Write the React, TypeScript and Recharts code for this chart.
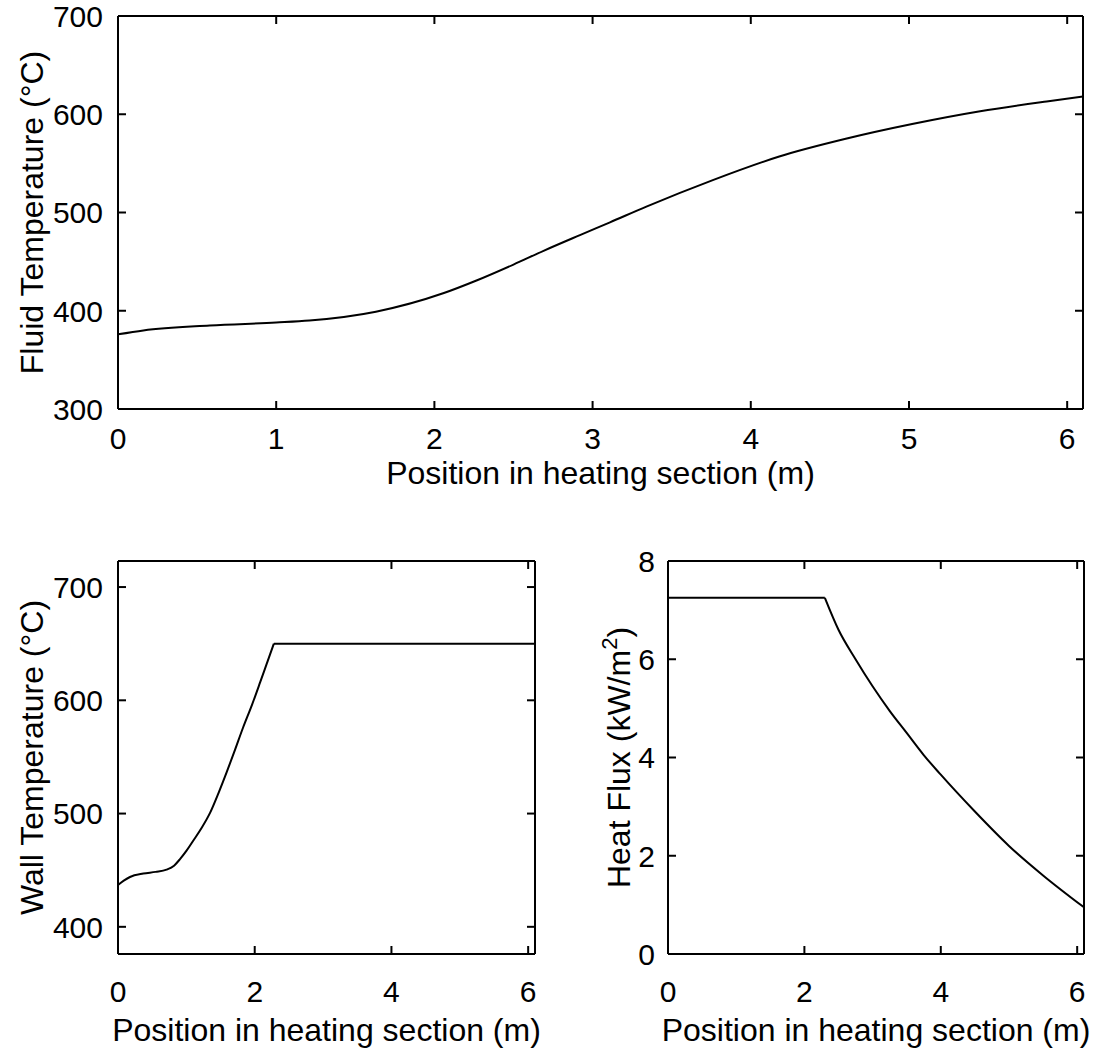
import { LineChart, Line, XAxis, YAxis, ReferenceLine } from 'recharts';

// Fluid temperature along the heating section (top plot)
const fluidPos = [0, 0.16, 0.58, 1.0, 1.21, 1.63, 2.06, 2.27, 2.5, 2.69, 2.92, 3.11, 3.34, 3.76, 4.18, 4.6, 5.02, 5.45, 5.87, 6.1];
const fluidTemp = [376, 380, 385, 388, 390, 399, 418, 431, 447, 461, 477, 490, 506, 533, 557, 575, 590, 603, 613, 618];

// Wall temperature (bottom left), rises until the knee then stays flat
const wallPos = [0, 0.09, 0.175, 0.37, 0.55, 0.71, 0.82, 0.91, 1.0, 1.1, 1.22, 1.35, 1.47, 1.59, 1.71, 1.83, 1.96, 2.08, 2.18, 2.28, 6.1];
const wallTemp = [437, 441, 444, 447, 448.5, 450.5, 454, 460, 467, 476, 487, 501, 518, 536.5, 556, 576, 596, 616, 633, 650, 650];
const wallKnee = 2.28;

// Heat flux (bottom right), flat until the knee then decaying
const fluxPos = [0, 2.3, 2.5, 2.75, 3, 3.25, 3.5, 3.75, 4, 4.5, 5, 5.5, 6.1];
const fluxVal = [7.25, 7.25, 6.6, 6.0, 5.45, 4.95, 4.5, 4.05, 3.65, 2.9, 2.2, 1.6, 0.95];
const fluxKnee = 2.3;

const X_MAX = 6.1;
const topXTicks = [0, 1, 2, 3, 4, 5, 6];
const topYTicks = [300, 400, 500, 600, 700];
const botXTicks = [0, 2, 4, 6];
const wallYTicks = [400, 500, 600, 700];
const fluxYTicks = [0, 2, 4, 6, 8];

const FONT = '"Liberation Sans", Arial, Helvetica, sans-serif';
const TICK_FONT = 30;
const LABEL_FONT = 32;
const axisLine = { stroke: '#000', strokeWidth: 2 };
const TICK_LEN = 8;
const Y_AXIS_W = 118;

type Row = { x: number; a: number | null; b: number | null };

// split a series at the knee so each part gets its own curve type
const splitRows = (xs: number[], ys: number[], knee: number): Row[] =>
  xs.map((x, i) => ({
    x,
    a: x <= knee ? ys[i] : null,
    b: x >= knee ? ys[i] : null,
  }));

const XTick = ({ x, y, payload }: any) => (
  <text x={x} y={y} dy="0.71em" textAnchor="middle" fontSize={TICK_FONT} fontFamily={FONT} fill="#000">
    {payload.value}
  </text>
);

const YTick = ({ x, y, payload }: any) => (
  <text x={x} y={y} dy="0.36em" textAnchor="end" fontSize={TICK_FONT} fontFamily={FONT} fill="#000">
    {payload.value}
  </text>
);

function YLabel({ viewBox, text, sup, bx }: any) {
  const cy = viewBox.y + viewBox.height / 2;
  return (
    <text
      x={bx}
      y={cy}
      transform={`rotate(-90, ${bx}, ${cy})`}
      textAnchor="middle"
      fontSize={LABEL_FONT}
      fill="#000"
      fontFamily={FONT}
    >
      {text}
      {sup && <tspan fontSize={22} dy={-13}>{sup}</tspan>}
      {sup && <tspan dy={13}>)</tspan>}
    </text>
  );
}

interface PanelProps {
  rows: Row[];
  curveA: 'linear' | 'monotone';
  curveB: 'linear' | 'monotone';
  width: number;
  height: number;
  margin: { top: number; right: number; left: number; bottom: number };
  xTicks: number[];
  yTicks: number[];
  yDomain: [number, number];
  xAxisHeight: number;
  xTickGap: number;
  xLabelOffset: number;
  yLabel: string;
  yLabelSup?: string;
  yLabelX: number;
  yTickGap: number;
}

function Panel(p: PanelProps) {
  const [y0, y1] = p.yDomain;
  const plotW = p.width - p.margin.left - p.margin.right - Y_AXIS_W;
  const plotH = p.height - p.margin.top - p.margin.bottom - p.xAxisHeight;
  const dx = (TICK_LEN * X_MAX) / plotW;
  const dy = (TICK_LEN * (y1 - y0)) / plotH;
  const tick = { stroke: '#000', strokeWidth: 2, ifOverflow: 'visible' as const };

  return (
    <LineChart width={p.width} height={p.height} data={p.rows} margin={p.margin}>
      <XAxis
        type="number"
        dataKey="x"
        domain={[0, X_MAX]}
        ticks={p.xTicks}
        allowDataOverflow
        height={p.xAxisHeight}
        tick={<XTick />}
        tickSize={0}
        tickMargin={p.xTickGap}
        tickLine={false}
        axisLine={axisLine}
        label={{
          value: 'Position in heating section (m)',
          position: 'insideBottom',
          offset: p.xLabelOffset,
          fill: '#000',
          fontSize: LABEL_FONT,
          fontFamily: FONT,
        }}
      />
      <YAxis
        type="number"
        domain={p.yDomain}
        ticks={p.yTicks}
        allowDataOverflow
        width={Y_AXIS_W}
        tick={<YTick />}
        tickSize={0}
        tickMargin={p.yTickGap}
        tickLine={false}
        axisLine={axisLine}
        label={{
          content: (lp: any) => (
            <YLabel {...lp} text={p.yLabel} sup={p.yLabelSup} bx={p.yLabelX} />
          ),
        }}
      />
      {/* box: top and right edges */}
      <ReferenceLine y={y1} stroke="#000" strokeWidth={2} ifOverflow="visible" />
      <ReferenceLine x={X_MAX} stroke="#000" strokeWidth={2} ifOverflow="visible" />
      {/* inward tick marks on all four sides */}
      {p.xTicks.map((t) => (
        <ReferenceLine key={`xb${t}`} segment={[{ x: t, y: y0 }, { x: t, y: y0 + dy }]} {...tick} />
      ))}
      {p.xTicks.map((t) => (
        <ReferenceLine key={`xt${t}`} segment={[{ x: t, y: y1 }, { x: t, y: y1 - dy }]} {...tick} />
      ))}
      {p.yTicks.map((t) => (
        <ReferenceLine key={`yl${t}`} segment={[{ x: 0, y: t }, { x: dx, y: t }]} {...tick} />
      ))}
      {p.yTicks.map((t) => (
        <ReferenceLine key={`yr${t}`} segment={[{ x: X_MAX, y: t }, { x: X_MAX - dx, y: t }]} {...tick} />
      ))}
      <Line
        type={p.curveA}
        dataKey="a"
        stroke="#000"
        strokeWidth={2}
        dot={false}
        connectNulls={false}
        isAnimationActive={false}
      />
      <Line
        type={p.curveB}
        dataKey="b"
        stroke="#000"
        strokeWidth={2}
        dot={false}
        connectNulls={false}
        isAnimationActive={false}
      />
    </LineChart>
  );
}

export default function App() {
  return (
    <div
      style={{
        position: 'absolute',
        left: 0,
        top: 0,
        width: 1096,
        height: 1051,
        background: '#fff',
      }}
    >
      <div style={{ position: 'absolute', left: 0, top: 0 }}>
        <Panel
          rows={splitRows(fluidPos, fluidTemp, X_MAX)}
          curveA="monotone"
          curveB="monotone"
          width={1096}
          height={505}
          margin={{ top: 16, right: 13, left: 0, bottom: 0 }}
          xTicks={topXTicks}
          yTicks={topYTicks}
          yDomain={[300, 700]}
          xAxisHeight={96}
          xTickGap={19}
          xLabelOffset={21}
          yLabel="Fluid Temperature (°C)"
          yLabelX={43}
          yTickGap={15}
        />
      </div>
      <div style={{ position: 'absolute', left: 0, top: 540 }}>
        <Panel
          rows={splitRows(wallPos, wallTemp, wallKnee)}
          curveA="monotone"
          curveB="linear"
          width={550}
          height={511}
          margin={{ top: 21, right: 15, left: 0, bottom: 0 }}
          xTicks={botXTicks}
          yTicks={wallYTicks}
          yDomain={[376, 723]}
          xAxisHeight={97}
          xTickGap={27}
          xLabelOffset={10}
          yLabel="Wall Temperature (°C)"
          yLabelX={43}
          yTickGap={15}
        />
      </div>
      <div style={{ position: 'absolute', left: 550, top: 540 }}>
        <Panel
          rows={splitRows(fluxPos, fluxVal, fluxKnee)}
          curveA="linear"
          curveB="monotone"
          width={546}
          height={511}
          margin={{ top: 21, right: 12, left: 0, bottom: 0 }}
          xTicks={botXTicks}
          yTicks={fluxYTicks}
          yDomain={[0, 8]}
          xAxisHeight={97}
          xTickGap={27}
          xLabelOffset={10}
          yLabel="Heat Flux (kW/m"
          yLabelSup="2"
          yLabelX={80}
          yTickGap={13}
        />
      </div>
    </div>
  );
}
